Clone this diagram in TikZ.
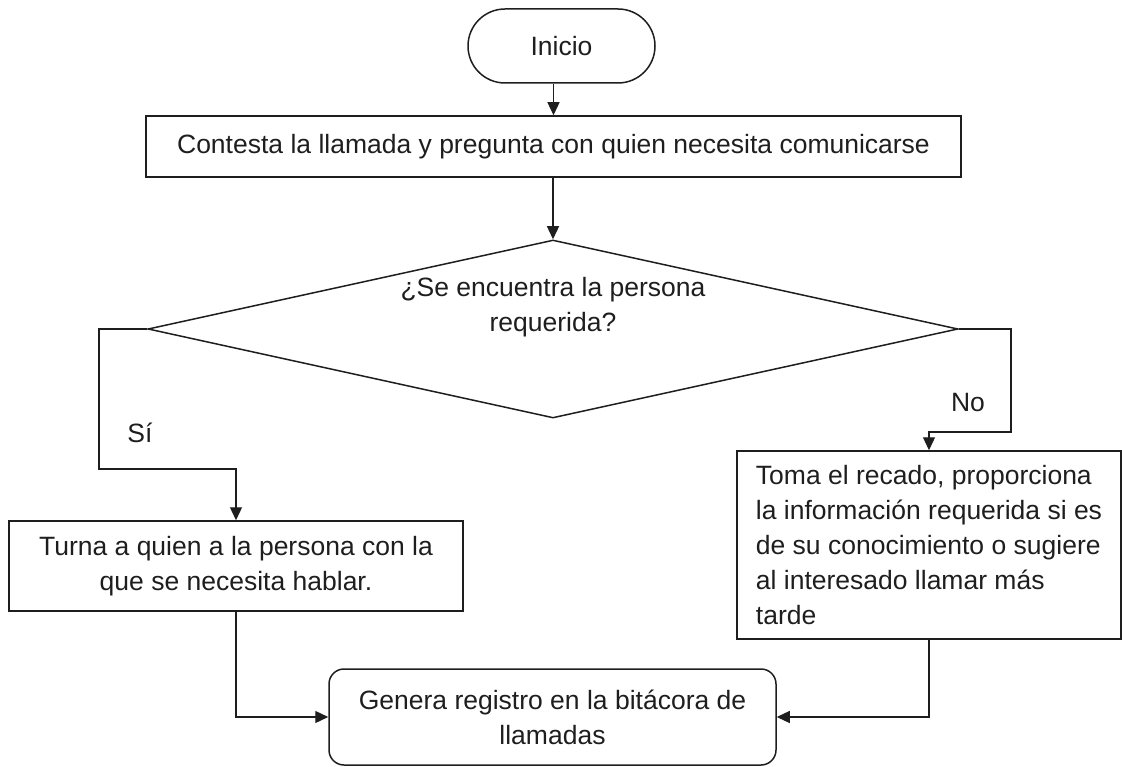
\documentclass[tikz,border=0pt]{standalone}
\usepackage{fontspec}
\setmainfont{Liberation Sans}
\usetikzlibrary{arrows.meta,shapes.geometric}
\definecolor{ink}{HTML}{1E1E1E}
\begin{document}
\begin{tikzpicture}[x=1pt,y=-1pt,
  every node/.style={font=\fontsize{26.5}{35}\selectfont, text=ink},
  boxnode/.style={draw=ink, line width=1.5pt, rectangle, inner sep=0pt, align=center},
  conn/.style={draw=ink, line width=1.3pt},
  arr/.style={conn, -{Triangle[length=13pt,width=12pt]}},
  lbl/.style={inner sep=0pt}
]
\useasboundingbox (0,0) rectangle (1122,767);

\node[boxnode, rounded corners=37pt, minimum width=187pt, minimum height=74pt] (inicio) at (561.5,46) {Inicio};
\node[boxnode, minimum width=815pt, minimum height=61pt] (box1) at (553.5,146.5) {Contesta la llamada y pregunta con quien necesita comunicarse};
\node[draw=ink, line width=1.5pt, diamond, inner sep=0pt, minimum width=810pt, minimum height=178pt] (dia) at (553,329) {};
\node[lbl, align=center] (diatext) at (553,307) {¿Se encuentra la persona\\requerida?};
\node[boxnode, minimum width=454pt, minimum height=90pt] (turna) at (236,566) {Turna a quien a la persona con la\\que se necesita hablar.};
\node[boxnode, minimum width=384pt, minimum height=188pt, align=left] (toma) at (929,545) {Toma el recado, proporciona\\la información requerida si es\\de su conocimiento o sugiere\\al interesado llamar más\\tarde};
\node[boxnode, rounded corners=15pt, minimum width=447pt, minimum height=96pt] (genera) at (552.5,717) {Genera registro en la bitácora de\\llamadas};

\node[lbl] (si) at (140,433) {Sí};
\node[lbl] (no) at (968,403) {No};

\coordinate (l1) at (99,469);
\coordinate (r1) at (1011,432);

\draw[arr] (box1.north |- inicio.south) -- (box1.north);
\draw[arr] (box1.south -| dia.north) -- (dia.north);
\draw[arr] (dia.west) -| (l1) -| (turna.north);
\draw[arr] (dia.east) -| (r1) -| (toma.north);
\draw[arr] (turna.south) |- (genera.west);
\draw[arr] (toma.south) |- (genera.east);
\end{tikzpicture}
\end{document}
